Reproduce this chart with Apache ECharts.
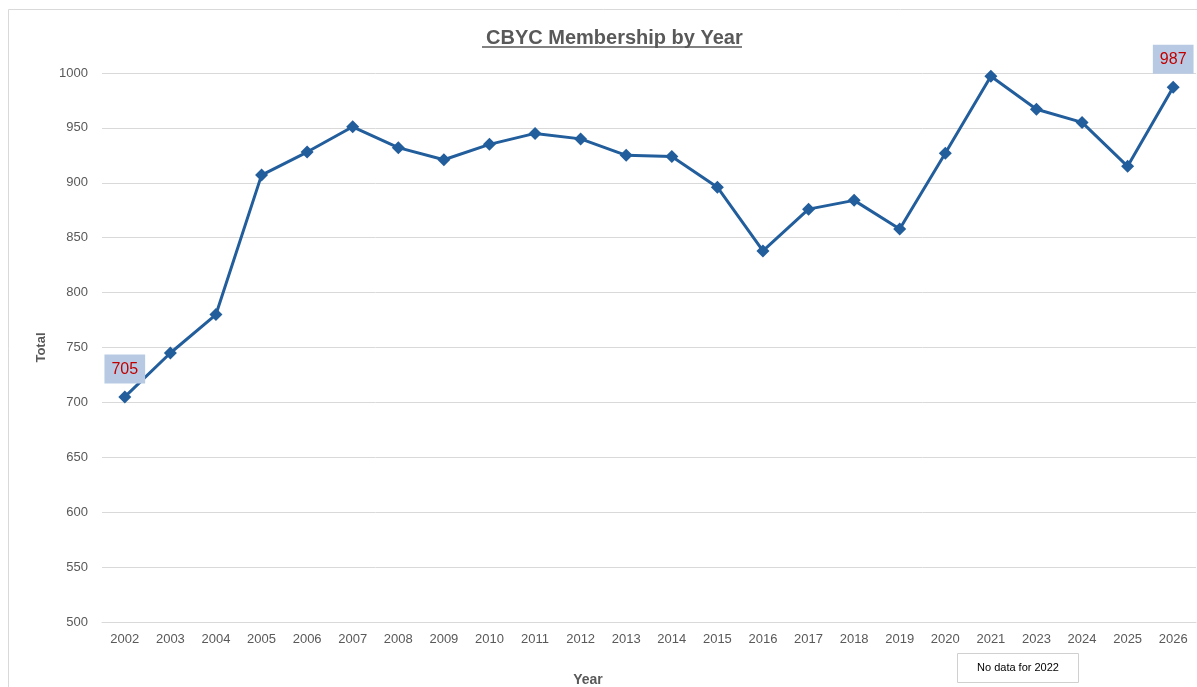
<!DOCTYPE html>
<html>
<head>
<meta charset="utf-8">
<script src="https://cdn.jsdelivr.net/npm/echarts@6/dist/echarts.min.js"></script>
<style>
html,body{margin:0;padding:0;background:#fff;}
#chart{width:1197px;height:687px;}
</style>
</head>
<body>
<div id="chart"></div>
<script>
const years = ['2002','2003','2004','2005','2006','2007','2008','2009','2010','2011','2012','2013','2014','2015','2016','2017','2018','2019','2020','2021','2023','2024','2025','2026'];
const totals = [705, 745, 780, 907, 928, 951, 932, 921, 935, 945, 940, 925, 924, 896, 838, 876, 884, 858, 927, 997, 967, 955, 915, 987];
const labelledIdx = [0, 23];
const yTicks = {min: 500, max: 1000, step: 50};
const noteText = 'No data for 2022';

const chart = echarts.init(document.getElementById('chart'), null, {renderer: 'canvas'});
const labelStyle = {
  show: true, position: 'top', distance: 7,
  backgroundColor: '#b8cae3', color: '#c00000', fontSize: 16,
  fontFamily: 'Liberation Sans, Arial, sans-serif',
  padding: [7, 7, 6, 7]
};
const seriesData = totals.map((v, i) => labelledIdx.includes(i) ? {value: v, label: labelStyle} : v);

chart.setOption({
  backgroundColor: '#ffffff',
  animation: false,
  title: {
    text: 'CBYC Membership by Year',
    left: 481, top: 23,
    textStyle: {color: '#595959', fontSize: 20, fontWeight: 'bold', fontFamily: 'Liberation Sans, Arial, sans-serif'}
  },
  graphic: [
    {type: 'rect', shape: {x: 8.5, y: 9.5, width: 1300, height: 800}, style: {fill: 'none', stroke: '#d9d9d9', lineWidth: 1}, z: -10, silent: true},
    {type: 'line', shape: {x1: 482, y1: 47, x2: 742, y2: 47}, style: {stroke: '#595959', lineWidth: 1.5}, silent: true},
    {type: 'group', left: 957, top: 653, children: [
      {type: 'rect', shape: {x: 0, y: 0, width: 121, height: 29}, style: {fill: '#ffffff', stroke: '#d0d0d0', lineWidth: 1}},
      {type: 'text', x: 60.5, y: 14.5, style: {text: noteText, fill: '#000000', fontSize: 11, fontFamily: 'Liberation Sans, Arial, sans-serif', align: 'center', verticalAlign: 'middle'}}
    ]}
  ],
  grid: {left: 102, right: 1, top: 73, bottom: 65, containLabel: false, outerBoundsMode: 'none'},
  xAxis: {
    type: 'category',
    data: years,
    boundaryGap: true,
    name: 'Year',
    nameLocation: 'middle',
    nameGap: 51,
    nameTextStyle: {color: '#595959', fontSize: 14, fontWeight: 'bold', fontFamily: 'Liberation Sans, Arial, sans-serif', padding: [0, 122, 0, 0]},
    axisLine: {show: true, lineStyle: {color: '#d9d9d9', width: 1}},
    axisTick: {show: false},
    axisLabel: {color: '#595959', fontSize: 13, margin: 11, interval: 0, fontFamily: 'Liberation Sans, Arial, sans-serif'}
  },
  yAxis: {
    type: 'value',
    min: yTicks.min, max: yTicks.max, interval: yTicks.step,
    name: 'Total',
    nameLocation: 'middle',
    nameGap: 54,
    nameRotate: 90,
    nameTextStyle: {color: '#595959', fontSize: 13, fontWeight: 'bold', fontFamily: 'Liberation Sans, Arial, sans-serif'},
    axisLine: {show: false},
    axisTick: {show: false},
    splitLine: {show: true, lineStyle: {color: '#d9d9d9', width: 1}},
    axisLabel: {color: '#595959', fontSize: 13, margin: 14, fontFamily: 'Liberation Sans, Arial, sans-serif', formatter: v => String(v)}
  },
  series: [{
    type: 'line',
    data: seriesData,
    symbol: 'diamond',
    symbolSize: 13,
    showAllSymbol: true,
    lineStyle: {color: '#225d9c', width: 3},
    itemStyle: {color: '#225d9c'},
    label: {show: false},
    z: 5
  }]
});
</script>
</body>
</html>
